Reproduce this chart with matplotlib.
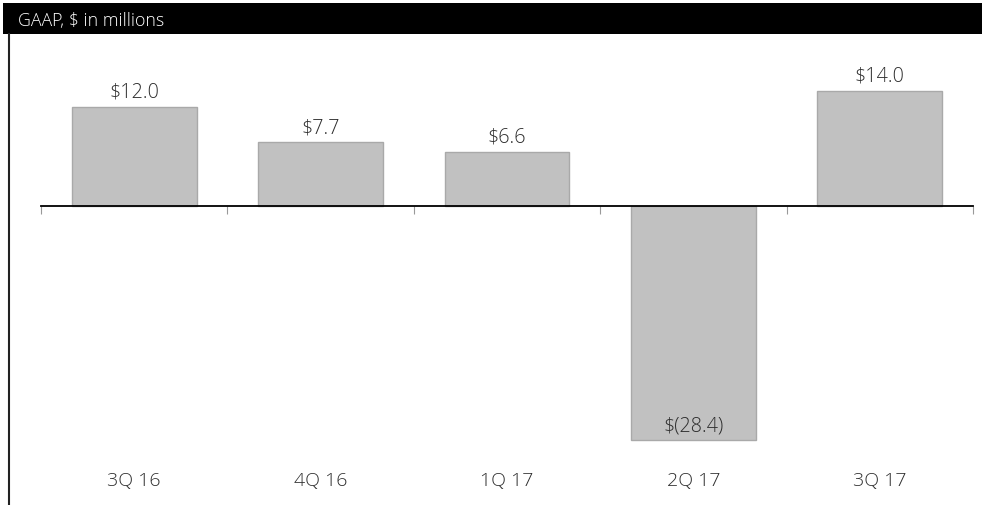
import matplotlib
matplotlib.use("Agg")
import matplotlib.pyplot as plt
from matplotlib.patches import Rectangle
from matplotlib.lines import Line2D
import matplotlib.transforms as mtrans

plt.rcParams['font.family'] = ['Open Sans', 'DejaVu Sans']

# Quarterly GAAP results, $ in millions
quarters = ['3Q 16', '4Q 16', '1Q 17', '2Q 17', '3Q 17']
values = [12.0, 7.7, 6.6, -28.4, 14.0]
labels = ['$12.0', '$7.7', '$6.6', '$(28.4)', '$14.0']

W, H = 982, 505
txt_color = '#2e2e2e'
fig = plt.figure(figsize=(W / 100, H / 100), dpi=100)

# header bar and left rule
fig.patches.append(Rectangle((3 / W, 1 - 34 / H), 1, 31 / H, transform=fig.transFigure,
                             facecolor='black', edgecolor='none'))
fig.text(18 / W, 1 - 21 / H, 'GAAP, $ in millions', color='white', fontsize=12.8,
         fontweight='light', va='center', ha='left')
fig.lines.append(Line2D([8.5 / W, 8.5 / W], [0, 1 - 34 / H], transform=fig.transFigure,
                        color='#222222', lw=1.5))

ax = fig.add_axes([41 / W, 0, (973 - 41) / W, 471 / H])
x = range(len(quarters))
ax.bar(x, values, width=0.67, color='#c1c1c1', edgecolor='#a9a9a9', linewidth=1, zorder=2)
ax.set_xlim(-0.5, len(quarters) - 0.5)
ax.set_ylim(-36.24, 20.85)

for s in ['top', 'left', 'right']:
    ax.spines[s].set_visible(False)
ax.spines['bottom'].set_position(('data', 0))
ax.spines['bottom'].set_linewidth(1.3)
ax.spines['bottom'].set_zorder(3)
ax.set_yticks([])
ax.set_xticks([i - 0.5 for i in range(len(quarters) + 1)])
ax.set_xticklabels([])
ax.tick_params(axis='x', direction='out', length=6, width=0.8, color='#999999')

# value labels: above positive bars, inside the bottom of negative ones
for i, (v, lab) in enumerate(zip(values, labels)):
    ax.annotate(lab, (i, v), xytext=(0, 3), textcoords='offset points', ha='center',
                va='bottom', fontsize=14.2, color=txt_color, fontweight='light')

trans = mtrans.blended_transform_factory(ax.transData, ax.transAxes)
for i, q in enumerate(quarters):
    ax.text(i, 24 / 471, q, transform=trans, ha='center', va='center', fontsize=14,
            color=txt_color, fontweight='light')

fig.savefig('out.png', dpi=100)
